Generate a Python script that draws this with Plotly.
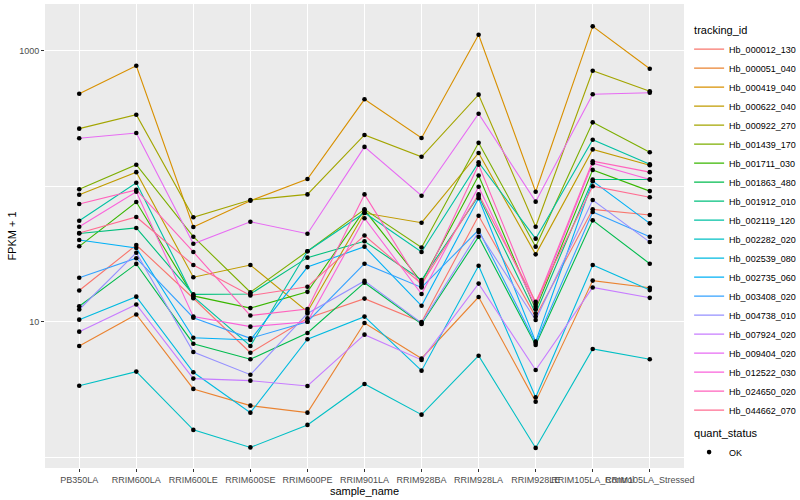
import plotly.graph_objects as go

samples = ["PB350LA", "RRIM600LA", "RRIM600LE", "RRIM600SE", "RRIM600PE", "RRIM901LA",
           "RRIM928BA", "RRIM928LA", "RRIM928LE", "RRIM105LA_Control", "RRIM105LA_Stressed"]

hb_000012_130 = [17.0, 36.8, 14.9, 5.9, 10.6, 14.8, 9.95, 60.6, 10.9, 67.5, 61.3]
hb_000051_040 = [6.62, 11.3, 3.19, 2.40, 2.13, 9.78, 5.35, 15.2, 2.57, 20.1, 17.8]
hb_000419_040 = [481, 775, 50.0, 78.2, 113, 438, 227, 1313, 91, 1514, 737]
hb_000622_040 = [86.6, 127, 21.3, 26.2, 11.85, 63.4, 53.8, 176, 31.4, 187, 143]
hb_000922_270 = [266, 337, 59.0, 79.1, 87, 239, 165, 474, 50.2, 712, 502]
hb_001439_170 = [95, 144, 42.4, 16.5, 33.1, 67.5, 35.3, 209, 35.8, 296, 178]
hb_001711_030 = [36.0, 76.5, 15.5, 12.6, 16.6, 66.7, 19.6, 120, 12.35, 132, 92]
hb_001863_480 = [13.0, 26.7, 6.88, 5.28, 8.26, 19.4, 9.62, 42.4, 6.73, 56.0, 26.8]
hb_001912_010 = [44.8, 49.2, 15.9, 16.0, 29.7, 39.2, 20.3, 84.7, 11.5, 112, 112]
hb_002119_120 = [55.6, 106, 15.3, 6.62, 33.1, 63.7, 32.7, 150, 41.0, 220, 145]
hb_002282_020 = [3.37, 4.28, 1.59, 1.18, 1.73, 3.47, 2.06, 5.61, 1.17, 6.29, 5.28]
hb_002539_080 = [10.35, 15.3, 4.23, 2.13, 7.42, 10.9, 4.35, 25.9, 2.77, 26.2, 17.1]
hb_002735_060 = [40.1, 35.0, 7.62, 7.33, 25.3, 35.8, 13.1, 81.4, 7.12, 109, 53.2]
hb_003408_020 = [21.1, 29.4, 10.7, 7.54, 10.0, 26.8, 17.9, 47.5, 6.96, 64.5, 42.4]
hb_004738_010 = [12.3, 32.3, 5.98, 4.06, 11.5, 20.0, 9.78, 45.9, 10.3, 79.1, 38.7]
hb_007924_020 = [8.44, 13.4, 3.80, 3.67, 3.35, 8.02, 5.22, 19.1, 4.40, 17.9, 15.0]
hb_009404_020 = [226, 247, 37.6, 54.7, 44.6, 195, 85.1, 343, 76.9, 477, 490]
hb_012522_030 = [50.2, 91, 10.9, 9.19, 10.0, 58.0, 16.0, 99, 12.9, 148, 112]
hb_024650_020 = [73.9, 94, 32.7, 11.1, 12.4, 87, 18.3, 144, 13.5, 153, 127]
hb_044662_070 = [45.1, 59.3, 26.2, 15.6, 18.1, 43.3, 19.0, 87, 14.05, 100, 82.8]

tracking_ids = ["Hb_000012_130", "Hb_000051_040", "Hb_000419_040", "Hb_000622_040", "Hb_000922_270",
                "Hb_001439_170", "Hb_001711_030", "Hb_001863_480", "Hb_001912_010", "Hb_002119_120",
                "Hb_002282_020", "Hb_002539_080", "Hb_002735_060", "Hb_003408_020", "Hb_004738_010",
                "Hb_007924_020", "Hb_009404_020", "Hb_012522_030", "Hb_024650_020", "Hb_044662_070"]
series_values = [hb_000012_130, hb_000051_040, hb_000419_040, hb_000622_040, hb_000922_270,
                 hb_001439_170, hb_001711_030, hb_001863_480, hb_001912_010, hb_002119_120,
                 hb_002282_020, hb_002539_080, hb_002735_060, hb_003408_020, hb_004738_010,
                 hb_007924_020, hb_009404_020, hb_012522_030, hb_024650_020, hb_044662_070]
colors = ["#F8766D", "#EA8331", "#D89000", "#C09B00", "#A3A500", "#7CAE00", "#39B600", "#00BB4E",
          "#00BF7D", "#00C1A3", "#00BFC4", "#00BAE0", "#00B0F6", "#35A2FF", "#9590FF", "#C77CFF",
          "#E76BF3", "#FA62DB", "#FF62BC", "#FF6C91"]

FONT = "Liberation Sans, Arial, sans-serif"

fig = go.Figure()
for i, (name, vals, col) in enumerate(zip(tracking_ids, series_values, colors)):
    fig.add_trace(go.Scatter(
        x=samples, y=vals, mode="lines", name=name,
        line=dict(color=col, width=1.1),
        legendgroup="tracking_id",
        legendgrouptitle=dict(text="tracking_id", font=dict(size=11, color="black")) if i == 0 else None,
        hoverinfo="x+y+name",
    ))

pts_x = [s for vals in series_values for s in samples]
pts_y = [v for vals in series_values for v in vals]
fig.add_trace(go.Scatter(
    x=pts_x, y=pts_y, mode="markers", name="OK",
    marker=dict(color="black", size=4.6),
    legendgroup="quant_status",
    legendgrouptitle=dict(text="quant_status", font=dict(size=11, color="black")),
))

fig.update_layout(
    width=800, height=500,
    margin=dict(l=45, r=116, t=4, b=32, autoexpand=False),
    paper_bgcolor="white", plot_bgcolor="#EBEBEB",
    font=dict(family=FONT, size=9, color="black"),
    legend=dict(x=1.008, xanchor="left", y=0.975, yanchor="top",
                font=dict(size=9, color="black"), tracegroupgap=4,
                itemwidth=30, bgcolor="rgba(255,255,255,0)", traceorder="grouped"),
    xaxis=dict(
        type="category", categoryorder="array", categoryarray=samples,
        range=[-0.6, 10.6], tickmode="array", tickvals=samples, ticktext=samples,
        tickangle=0, showgrid=True, gridcolor="white", gridwidth=1.1,
        ticks="outside", ticklen=3, tickcolor="#333333",
        tickfont=dict(size=9, color="#4D4D4D"), zeroline=False, showline=False,
        title=dict(text="sample_name", font=dict(size=11, color="black"), standoff=0),
        automargin=False,
    ),
    yaxis=dict(
        type="log", range=[-0.08, 3.345], tickmode="array",
        tickvals=[10, 1000], ticktext=["10", "1000"],
        showgrid=True, gridcolor="white", gridwidth=1.1,
        minor=dict(tickmode="array", tickvals=[1, 100], showgrid=True,
                   gridcolor="white", gridwidth=0.55, ticks=""),
        ticks="outside", ticklen=3, tickcolor="#333333",
        tickfont=dict(size=9, color="#4D4D4D"), zeroline=False, showline=False,
        title=dict(text="FPKM + 1", font=dict(size=11, color="black"), standoff=0),
        automargin=False,
    ),
)

fig.write_html("out.html", config={"displayModeBar": False},
               post_script="document.body.style.margin='0';document.body.style.overflow='hidden';")
